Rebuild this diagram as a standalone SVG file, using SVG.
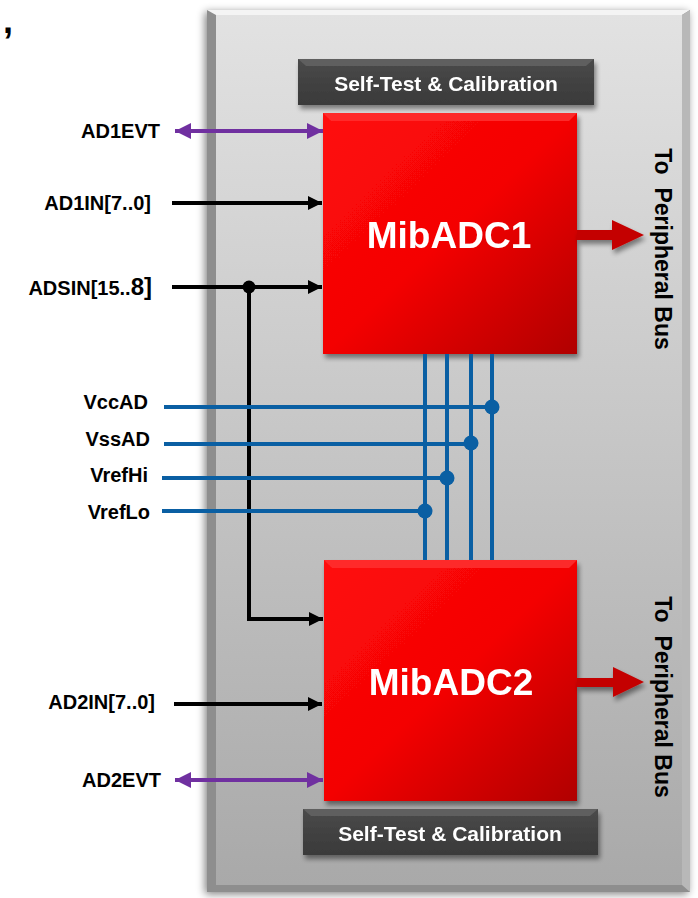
<svg xmlns="http://www.w3.org/2000/svg" width="698" height="898" viewBox="0 0 698 898">
<style>
.lbl{font-family:"Liberation Sans",Arial,sans-serif;font-weight:bold;font-size:20px;fill:#000}
.wt{font-family:"Liberation Sans",Arial,sans-serif;font-weight:bold;fill:#fff}
.bus{font-family:"Liberation Sans",Arial,sans-serif;font-weight:bold;font-size:23px;fill:#000}
.blk{stroke:#000;stroke-width:4;fill:none}
.pur{stroke:#7030a0;stroke-width:4;fill:none}
.blu{stroke:#0a5fa3;stroke-width:4;fill:none}
</style>
<defs>
<linearGradient id="panel" x1="0" y1="0" x2="0" y2="1">
<stop offset="0" stop-color="#e2e2e2"/><stop offset="1" stop-color="#a9a9a9"/>
</linearGradient>
<linearGradient id="red" x1="0" y1="0" x2="1" y2="1">
<stop offset="0" stop-color="#ff0a0a"/><stop offset="0.5" stop-color="#f40404"/><stop offset="1" stop-color="#b00000"/>
</linearGradient>
<linearGradient id="dark" x1="0" y1="0" x2="0" y2="1">
<stop offset="0" stop-color="#4a4a4a"/><stop offset="1" stop-color="#3a3a3a"/>
</linearGradient>
<filter id="sh" x="-10%" y="-10%" width="120%" height="120%">
<feGaussianBlur in="SourceAlpha" stdDeviation="4"/><feOffset dx="-2" dy="2"/>
<feComponentTransfer><feFuncA type="linear" slope="0.5"/></feComponentTransfer>
<feMerge><feMergeNode/><feMergeNode in="SourceGraphic"/></feMerge>
</filter>
<filter id="sh2" x="-10%" y="-10%" width="130%" height="130%">
<feGaussianBlur in="SourceAlpha" stdDeviation="2.5"/><feOffset dx="2" dy="4"/>
<feComponentTransfer><feFuncA type="linear" slope="0.45"/></feComponentTransfer>
<feMerge><feMergeNode/><feMergeNode in="SourceGraphic"/></feMerge>
</filter>
<marker id="ab" markerUnits="userSpaceOnUse" markerWidth="14" markerHeight="14" refX="14" refY="7" orient="auto-start-reverse">
<path d="M0,0 L14,7 L0,14 z" fill="#000"/>
</marker>
<marker id="ap" markerUnits="userSpaceOnUse" markerWidth="16" markerHeight="16" refX="16" refY="8" orient="auto-start-reverse">
<path d="M0,0 L16,8 L0,16 z" fill="#7030a0"/>
</marker>
</defs>

<text class="lbl" x="3" y="33" style="font-size:36px">,</text>

<g id="panel-box">
<rect x="207" y="10" width="483" height="882" fill="#8e8e8e" filter="url(#sh)"/>
<rect x="216" y="15" width="466" height="870" fill="url(#panel)"/>
<path d="M207,10 L690,10 L682,15 L216,15 z" fill="#f4f4f4"/>
<path d="M690,10 L690,892 L682,885 L682,15 z" fill="#b8b8b8"/>
</g>

<g id="selftest1" filter="url(#sh2)">
<rect x="298" y="59" width="296" height="46" fill="url(#dark)"/>
<path d="M298,59 L594,59 L586,66 L306,66 z" fill="#5e5e5e"/>
<text class="wt" x="446" y="91" font-size="21" text-anchor="middle">Self-Test &amp; Calibration</text>
</g>

<g id="mibadc1" filter="url(#sh2)">
<rect x="323" y="113" width="254" height="241" fill="url(#red)"/>
<path d="M323,113 L577,113 L569,121 L331,121 z" fill="#ff3b3b" opacity="0.7"/>
<text class="wt" x="449" y="248" font-size="37" text-anchor="middle">MibADC1</text>
</g>

<g id="mibadc2" filter="url(#sh2)">
<rect x="324" y="560" width="253" height="241" fill="url(#red)"/>
<path d="M324,560 L577,560 L569,568 L332,568 z" fill="#ff3b3b" opacity="0.7"/>
<text class="wt" x="451" y="695" font-size="37" text-anchor="middle">MibADC2</text>
</g>

<g id="selftest2" filter="url(#sh2)">
<rect x="303" y="809" width="295" height="46" fill="url(#dark)"/>
<path d="M303,809 L598,809 L590,816 L311,816 z" fill="#5e5e5e"/>
<text class="wt" x="450" y="841" font-size="21" text-anchor="middle">Self-Test &amp; Calibration</text>
</g>

<g id="bus1">
<text class="bus" transform="translate(655,249) rotate(90)" text-anchor="middle" xml:space="preserve">To  Peripheral Bus</text>
</g>
<g id="bus2">
<text class="bus" transform="translate(655,697) rotate(90)" text-anchor="middle" xml:space="preserve">To  Peripheral Bus</text>
</g>

<g id="labels">
<text class="lbl" x="160" y="138" text-anchor="end">AD1EVT</text>
<text class="lbl" x="151" y="210" text-anchor="end">AD1IN[7..0]</text>
<text class="lbl" x="152" y="295" text-anchor="end">ADSIN[15..<tspan font-size="24">8]</tspan></text>
<text class="lbl" x="148" y="409" text-anchor="end">VccAD</text>
<text class="lbl" x="150" y="446" text-anchor="end">VssAD</text>
<text class="lbl" x="148" y="482" text-anchor="end">VrefHi</text>
<text class="lbl" x="150" y="519" text-anchor="end">VrefLo</text>
<text class="lbl" x="155" y="709" text-anchor="end">AD2IN[7..0]</text>
<text class="lbl" x="161" y="787" text-anchor="end">AD2EVT</text>
</g>

<g id="connectors">
<g filter="url(#sh2)">
<polygon points="577,230 612,230 612,220 644,235 612,250 612,240 577,240" fill="#c40000"/>
<polygon points="577,678 613,678 613,667 644,682 613,697 613,687 577,687" fill="#c40000"/>
</g>
<line class="pur" x1="175" y1="131" x2="323" y2="131" marker-start="url(#ap)" marker-end="url(#ap)"/>
<line class="pur" x1="175" y1="780" x2="323" y2="780" marker-start="url(#ap)" marker-end="url(#ap)"/>
<line class="blk" x1="172" y1="203" x2="322" y2="203" marker-end="url(#ab)"/>
<line class="blk" x1="172" y1="287" x2="322" y2="287" marker-end="url(#ab)"/>
<line class="blk" x1="174" y1="704" x2="322" y2="704" marker-end="url(#ab)"/>
<polyline class="blk" points="249,287 249,619 323,619" marker-end="url(#ab)"/>
<circle cx="249" cy="287" r="6.5" fill="#000"/>
<g class="blu">
<line x1="425" y1="354" x2="425" y2="560"/>
<line x1="447" y1="354" x2="447" y2="560"/>
<line x1="471" y1="354" x2="471" y2="560"/>
<line x1="492" y1="354" x2="492" y2="560"/>
<line x1="164" y1="407" x2="492" y2="407"/>
<line x1="164" y1="444" x2="471" y2="444"/>
<line x1="162" y1="478" x2="447" y2="478"/>
<line x1="162" y1="511" x2="425" y2="511"/>
</g>
<g fill="#0a5fa3">
<circle cx="492" cy="407" r="7.5"/>
<circle cx="471" cy="443" r="7.5"/>
<circle cx="447" cy="478" r="7.5"/>
<circle cx="425" cy="511" r="7.5"/>
</g>
</g>
</svg>
